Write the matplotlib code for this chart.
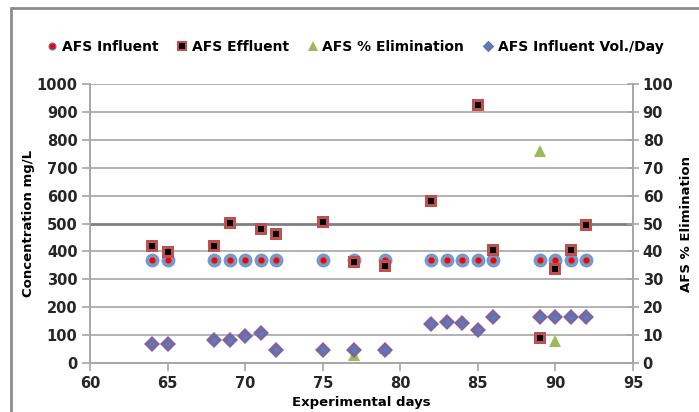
import numpy as np
import matplotlib
matplotlib.use('Agg')
import matplotlib.pyplot as plt
from matplotlib.lines import Line2D
from matplotlib.patches import Rectangle

plt.rcParams['font.family'] = ['DejaVu Sans']

# data
inf_days = [64, 65, 68, 69, 70, 71, 72, 75, 77, 79, 82, 83, 84, 85, 86, 89, 90, 91, 92]
inf_conc = [370] * len(inf_days)

eff_days = [64, 65, 68, 69, 71, 72, 75, 77, 79, 82, 85, 86, 89, 90, 91, 92]
eff_conc = [418, 398, 418, 501, 482, 463, 506, 361, 349, 580, 925, 406, 90, 337, 406, 493]

elim_days = [77, 79, 89, 90]
elim_pct = [2.9, 5.5, 76.1, 7.9]

vol_days = [64, 65, 68, 69, 70, 71, 72, 75, 77, 79, 82, 83, 84, 85, 86, 89, 90, 91, 92]
vol_day = [6.9, 6.9, 8.4, 8.4, 9.8, 10.7, 4.7, 4.7, 4.7, 4.7, 14.1, 14.6, 14.2, 11.9,
           16.5, 16.5, 16.5, 16.5, 16.5]

blue = '#4F81BD'
red_brown = '#C0504D'
green = '#9BBB59'
purple = '#8064A2'
grid_c = '#A6A6A6'

fig = plt.figure(figsize=(6.99, 4.12), dpi=100)
ax = fig.add_axes([90/699, 1-363/412, (633-90)/699, (363-84)/412])
ax2 = ax.twinx()

# chart border
fig.patches.append(Rectangle((11/699, -0.1), 1.2, 1-8/412+0.1, transform=fig.transFigure,
                             fill=False, edgecolor='#8C8C8C', linewidth=2, zorder=0))

# influent: blue glow + red dot
ax.plot(inf_days, inf_conc, 'o', ms=10, color=blue, alpha=0.8, mew=0, zorder=3)
ax.plot(inf_days, inf_conc, 'o', ms=4.5, color='#FF0000', mew=0, zorder=4)
# effluent: red-brown square with black center
ax.plot(eff_days, eff_conc, 's', ms=9, color=red_brown, mew=0, zorder=5)
ax.plot(eff_days, eff_conc, 's', ms=4.5, color='black', mew=0, zorder=6)

# secondary axis
ax2.plot(elim_days, elim_pct, '^', ms=9, color=green, mew=0, zorder=3)
ax2.plot(vol_days, vol_day, 'D', ms=8, color=purple, mew=0, zorder=4)
ax2.plot(vol_days, vol_day, 'D', ms=3.5, color=blue, mew=0, zorder=5)

ax.set_xlim(60, 95)
ax.set_ylim(0, 1000)
ax2.set_ylim(0, 100)
ax.set_xticks(np.arange(60, 96, 5))
ax.set_yticks(np.arange(0, 1001, 100))
ax2.set_yticks(np.arange(0, 101, 10))

for y in range(100, 1001, 100):
    if y == 500:
        ax.axhline(y, color='#7F7F7F', lw=2, zorder=1)
    else:
        ax.axhline(y, color=grid_c, lw=1.2, zorder=1)

for a in (ax, ax2):
    for s in a.spines.values():
        s.set_color(grid_c)
        s.set_linewidth(1.2)
    a.spines['top'].set_visible(False)

ax.tick_params(axis='both', direction='out', length=6, width=1.2, color=grid_c, pad=3)
ax2.tick_params(axis='y', direction='inout', length=8, width=1.2, color=grid_c, pad=3)
for lab in ax.get_xticklabels() + ax.get_yticklabels() + ax2.get_yticklabels():
    lab.set_fontsize(10.5)
    lab.set_fontweight('bold')
    lab.set_color('#262626')

ax.set_ylabel('Concentration mg/L', fontsize=9.5, fontweight='bold', labelpad=1)
ax2.set_ylabel('AFS % Elimination', fontsize=9.5, fontweight='bold', labelpad=5)
ax.set_xlabel('Experimental days', fontsize=9.5, fontweight='bold', labelpad=4)

handles = [
    Line2D([], [], ls='none', marker='o', ms=5, color='#FF0000', mec=blue, mew=0.8),
    Line2D([], [], ls='none', marker='s', ms=6, color='black', mec=red_brown, mew=1.5),
    Line2D([], [], ls='none', marker='^', ms=7, color=green, mew=0),
    Line2D([], [], ls='none', marker='D', ms=5, color=blue, mec=purple, mew=0.8),
]
labels = ['AFS Influent', 'AFS Effluent', 'AFS % Elimination', 'AFS Influent Vol./Day']
fig.legend(handles, labels, loc='center', bbox_to_anchor=(0.508, 1-47/412), ncol=4,
           frameon=False, prop=dict(size=10, weight='bold'), handlelength=0.8,
           handletextpad=0.3, columnspacing=1.3)

fig.savefig('out.png', dpi=100)
